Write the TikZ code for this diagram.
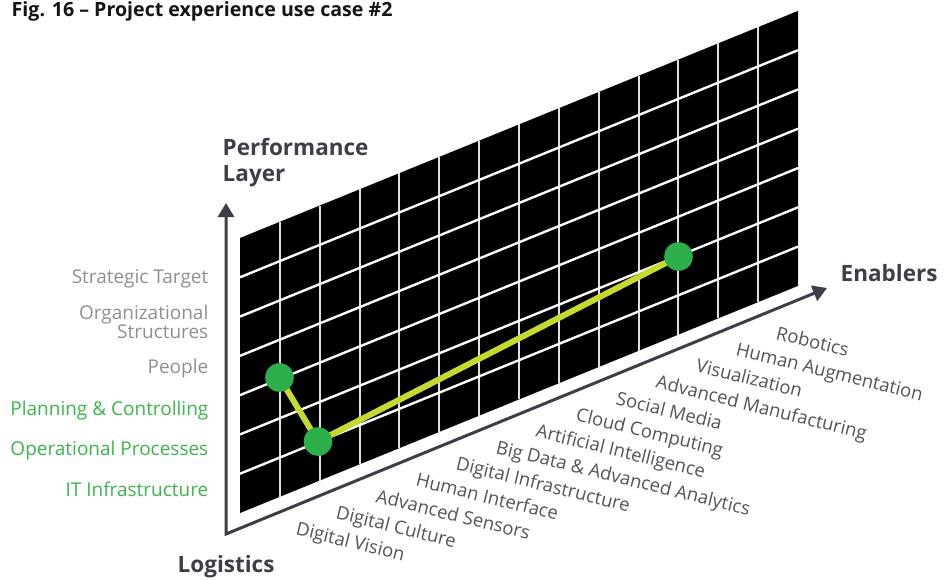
\documentclass[tikz,border=0pt]{standalone}
\usepackage{fontspec}
\setmainfont{Open Sans}
\usetikzlibrary{arrows.meta}

\definecolor{titleink}{HTML}{141414}
\definecolor{axisink}{HTML}{3D3E48}
\definecolor{mutedink}{HTML}{8E8F94}
\definecolor{labelink}{HTML}{53545C}
\definecolor{activeink}{HTML}{3BB54A}
\definecolor{dotfill}{HTML}{2DB04B}
\definecolor{pathline}{HTML}{C6D92E}

\tikzset{
  heading/.style={font=\fontsize{19.6}{23}\selectfont\bfseries, text=titleink, inner sep=0pt, anchor=base west},
  axislabel/.style={font=\fontsize{22.5}{27}\selectfont\bfseries, text=axisink, inner sep=0pt, anchor=base west},
  layerlabel/.style={font=\fontsize{19}{22}\selectfont, inner sep=0pt, anchor=base east},
  enablerlabel/.style={font=\fontsize{18.5}{21}\selectfont, text=labelink, inner sep=0pt, anchor=base west, rotate=-13.8},
  axisline/.style={draw=axisink, line width=3pt, line join=miter},
  hgrid/.style={draw=white, line width=2.4pt},
  vgrid/.style={draw=white!88!black, line width=2pt},
  hit/.style={circle, fill=dotfill, minimum size=28.6pt, inner sep=0pt},
  trail/.style={draw=pathline, line width=6pt},
}

\begin{document}
\begin{tikzpicture}[x=1pt, y=-1pt]
  \useasboundingbox (0,0) rectangle (952,579);

  % title
  \node[heading] (title) at (11.5,16.8) {Fig. 16 – Project experience use case \#2};

  % black panel with its grid (14 columns, 7 rows, sheared)
  \fill[black] (240,238) -- (798,10.9) -- (798,285.9) -- (240,513) -- cycle;
  \foreach \i in {1,...,13} {
    \draw[vgrid] ({240+39.857*\i},{238-16.22*\i}) -- ({240+39.857*\i},{513-16.22*\i});
  }
  \foreach \k in {1,...,6} {
    \draw[hgrid] (240,{238+39.286*\k}) -- (798,{238+39.286*\k-227.1});
  }

  % axes
  \coordinate (origin) at (226,534);
  \coordinate (uptip) at (226,203);
  \coordinate (righttip) at (827,288);
  \draw[axisline, {Triangle[length=14pt,width=16pt]}-{Triangle[length=14pt,width=16pt]}]
    (uptip) -- (origin) -- (righttip);

  % axis titles
  \node[axislabel] (perf) at (222.5,155) {Performance};
  \node[axislabel] (layer) at (222.5,181.7) {Layer};
  \node[axislabel] (enablers) at (840.5,281.7) {Enablers};
  \node[axislabel] (logistics) at (177.5,572.7) {Logistics};

  % layer names
  \node[layerlabel, text=mutedink] (l1) at (208.5,283.3) {Strategic Target};
  \node[layerlabel, text=mutedink] (l2a) at (208.5,319) {Organizational};
  \node[layerlabel, text=mutedink] (l2b) at (208.5,338.3) {Structures};
  \node[layerlabel, text=mutedink] (l3) at (208.5,373.3) {People};
  \node[layerlabel, text=activeink] (l4) at (208.5,415.7) {Planning \& Controlling};
  \node[layerlabel, text=activeink] (l5) at (208.5,455) {Operational Processes};
  \node[layerlabel, text=activeink] (l6) at (208.5,496) {IT Infrastructure};

  % enabler names along the horizontal axis
  \foreach \name [count=\n from 0] in {Digital Vision, Digital Culture, Advanced Sensors,
      Human Interface, Digital Infrastructure, Big Data \& Advanced Analytics,
      Artificial Intelligence, Cloud Computing, Social Media, Advanced Manufacturing,
      Visualization, Human Augmentation, Robotics} {
    \node[enablerlabel] (e\n) at ({295+40*\n},{534.6-16.3*\n}) {\name};
  }

  % project path: trail first, dots on top
  \coordinate (c1) at (279.5,377.5);
  \coordinate (c2) at (318,441.5);
  \coordinate (c3) at (678.5,256.5);
  \draw[trail] (c1) -- (c2) -- (c3);
  \node[hit] (p1) at (c1) {};
  \node[hit] (p2) at (c2) {};
  \node[hit] (p3) at (c3) {};
\end{tikzpicture}
\end{document}
